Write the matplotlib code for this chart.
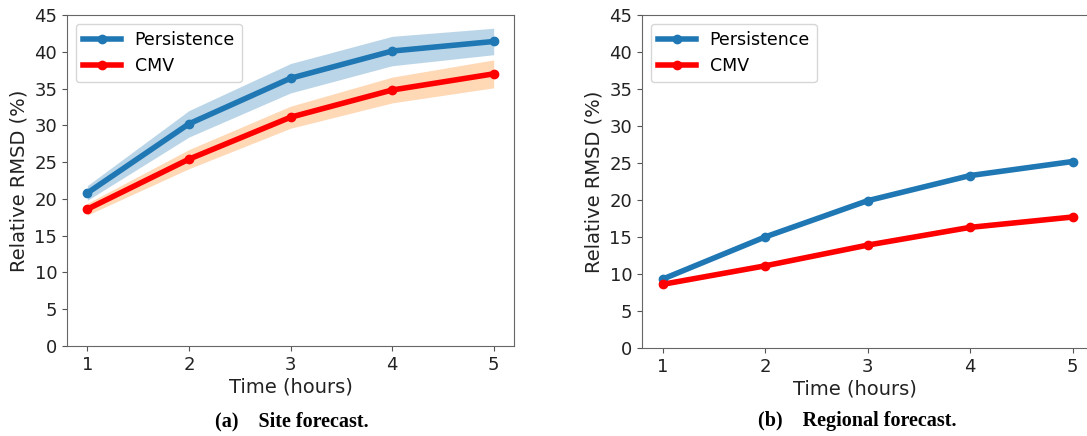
import matplotlib.pyplot as plt

# forecast horizons
hours = [1, 2, 3, 4, 5]

# (a) site forecast, relative RMSD (%)
site_persistence = [20.8, 30.2, 36.4, 40.1, 41.4]
site_persistence_band = [1.0, 1.8, 2.0, 2.0, 1.8]
site_cmv = [18.6, 25.4, 31.1, 34.8, 37.0]
site_cmv_band = [0.8, 1.3, 1.5, 1.75, 1.9]

# (b) regional forecast, relative RMSD (%)
reg_persistence = [9.3, 15.0, 19.9, 23.3, 25.2]
reg_cmv = [8.6, 11.1, 13.9, 16.3, 17.7]

yticks = [0, 5, 10, 15, 20, 25, 30, 35, 40, 45]
captions = ["(a)    Site forecast.", "(b)    Regional forecast."]

W, H = 1087, 436
fig = plt.figure(figsize=(W / 100, H / 100), dpi=100)

def px_axes(x0, x1, y0, y1):
    return fig.add_axes([x0 / W, 1 - y1 / H, (x1 - x0) / W, (y1 - y0) / H])

ax1 = px_axes(67, 514, 15, 346)
ax2 = px_axes(642, 1093, 15, 348)

lw = 4
ms = 6

ax1.fill_between(hours, [v - b for v, b in zip(site_persistence, site_persistence_band)],
                 [v + b for v, b in zip(site_persistence, site_persistence_band)],
                 color='tab:blue', alpha=0.3, lw=0)
ax1.fill_between(hours, [v - b for v, b in zip(site_cmv, site_cmv_band)],
                 [v + b for v, b in zip(site_cmv, site_cmv_band)],
                 color='tab:orange', alpha=0.3, lw=0)
ax1.plot(hours, site_persistence, 'o-', color='tab:blue', lw=lw, ms=ms, label='Persistence')
ax1.plot(hours, site_cmv, 'o-', color='red', lw=lw, ms=ms, label='CMV')

ax2.plot(hours, reg_persistence, 'o-', color='tab:blue', lw=lw, ms=ms, label='Persistence')
ax2.plot(hours, reg_cmv, 'o-', color='red', lw=lw, ms=ms, label='CMV')

for ax, xl in [(ax1, 0.5), (ax2, 0.472)]:
    ax.set_xlim(0.8, 5.2)
    ax.set_ylim(0, 45)
    ax.set_xticks(hours)
    ax.set_yticks(yticks)
    ax.tick_params(labelsize=13, color='#555555', labelcolor='#222222')
    for s in ax.spines.values():
        s.set_color('#666666')
    ax.set_xlabel('Time (hours)', fontsize=14, labelpad=2, color='#222222')
    ax.xaxis.set_label_coords(xl, -0.095)
    ax.set_ylabel('Relative RMSD (%)', fontsize=14, color='#222222')
    ax.legend(loc='upper left', fontsize=12.5, handlelength=2.2, borderaxespad=0.5)

fig.text(292 / W, 1 - 421 / H, captions[0], ha='center', va='center',
         fontsize=14.5, fontweight='bold', family='Liberation Serif')
fig.text(857 / W, 1 - 421 / H, captions[1], ha='center', va='center',
         fontsize=14.5, fontweight='bold', family='Liberation Serif')

fig.savefig('out.png', dpi=100)
